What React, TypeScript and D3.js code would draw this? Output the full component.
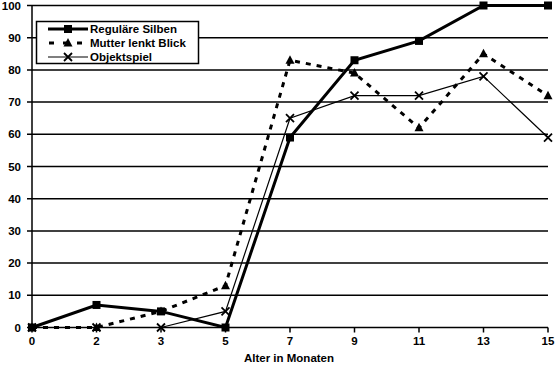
import React from 'react';
import * as d3 from 'd3';

const months = ['0', '2', '3', '5', '7', '9', '11', '13', '15'];
const regulaereSilben = [0, 7, 5, 0, 59, 83, 89, 100, 100];
const mutterLenktBlick = [0, 0, 5, 13, 83, 79, 62, 85, 72];
const objektspiel = [0, 0, 0, 5, 65, 72, 72, 78, 59];
const yTicks = [0, 10, 20, 30, 40, 50, 60, 70, 80, 90, 100];

const width = 555;
const height = 366;
const font = 'Liberation Sans, Arial, sans-serif';
const fs = 11.5;

const x = d3.scalePoint<string>().domain(months).range([32, 548]);
const y = d3.scaleLinear().domain([0, 100]).range([327.5, 5.5]);

type Pt = { m: string; v: number };
const toPts = (vals: number[]): Pt[] => months.map((m, i) => ({ m, v: vals[i] }));

const line = d3.line<Pt>().x(d => x(d.m) as number).y(d => y(d.v));

const Square = ({ cx, cy }: { cx: number; cy: number }) => (
  <rect x={cx - 4} y={cy - 4} width={8} height={8} fill="#000" />
);
const Triangle = ({ cx, cy }: { cx: number; cy: number }) => (
  <path d={`M${cx},${cy - 5}L${cx + 4.5},${cy + 3.5}L${cx - 4.5},${cy + 3.5}Z`} fill="#000" />
);
const Cross = ({ cx, cy }: { cx: number; cy: number }) => (
  <path d={`M${cx - 4},${cy - 4}L${cx + 4},${cy + 4}M${cx + 4},${cy - 4}L${cx - 4},${cy + 4}`} stroke="#000" strokeWidth={1.8} />
);

const series = [
  { name: 'Reguläre Silben', vals: regulaereSilben, width: 3, dash: undefined as string | undefined, Marker: Square },
  { name: 'Mutter lenkt Blick', vals: mutterLenktBlick, width: 3, dash: '5,6', Marker: Triangle },
  { name: 'Objektspiel', vals: objektspiel, width: 1.2, dash: undefined as string | undefined, Marker: Cross },
];

export default function App() {
  const x0 = x('0') as number;
  const x1 = x('15') as number;
  return (
    <svg width={width} height={height} style={{ position: 'absolute', left: 0, top: 0, background: '#fff' }}>
      {/* gridlines */}
      {yTicks.map(t => (
        <g key={t}>
          <line x1={x0 - 5} x2={x1} y1={y(t)} y2={y(t)} stroke="#000" strokeWidth={1.5} />
          <text x={21} y={y(t)} dy="0.35em" textAnchor="end" fontFamily={font} fontWeight="bold" fontSize={fs}>
            {t}
          </text>
        </g>
      ))}
      {/* y axis */}
      <line x1={x0} x2={x0} y1={y(100)} y2={y(0)} stroke="#000" strokeWidth={1.5} />
      {/* x ticks */}
      {months.map(m => (
        <g key={m}>
          <line x1={x(m)} x2={x(m)} y1={y(0)} y2={y(0) + 5} stroke="#000" strokeWidth={1.5} />
          <text x={x(m)} y={y(0) + 17.5} textAnchor="middle" fontFamily={font} fontWeight="bold" fontSize={fs}>
            {m}
          </text>
        </g>
      ))}
      <text x={289} y={362} textAnchor="middle" fontFamily={font} fontWeight="bold" fontSize={fs}>
        Alter in Monaten
      </text>

      {/* series */}
      {[...series].reverse().map(s => (
        <g key={s.name}>
          <path d={line(toPts(s.vals)) || ''} fill="none" stroke="#000" strokeWidth={s.width} strokeDasharray={s.dash} />
          {toPts(s.vals).map(p => (
            <s.Marker key={p.m} cx={x(p.m) as number} cy={y(p.v)} />
          ))}
        </g>
      ))}

      {/* legend */}
      <g>
        <rect x={36.5} y={21.5} width={162} height={42} fill="#fff" stroke="#000" strokeWidth={1.5} />
        {series.map((s, i) => {
          const ly = 29 + i * 14;
          return (
            <g key={s.name}>
              <line x1={48} x2={88} y1={ly} y2={ly} stroke="#000" strokeWidth={s.width} strokeDasharray={s.dash ? '5,9' : undefined} strokeDashoffset={s.dash ? -1 : undefined} />
              <s.Marker cx={68} cy={ly} />
              <text x={90} y={ly} dy="0.35em" fontFamily={font} fontWeight="bold" fontSize={fs}>
                {s.name}
              </text>
            </g>
          );
        })}
      </g>
    </svg>
  );
}
